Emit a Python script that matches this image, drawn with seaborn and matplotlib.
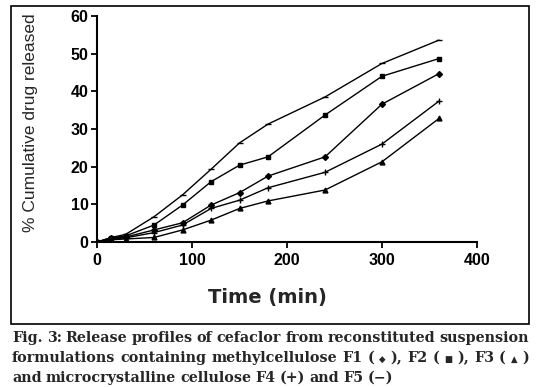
import numpy as np
import pandas as pd
import matplotlib
matplotlib.use("Agg")
import matplotlib.pyplot as plt
import seaborn as sns
from matplotlib.patches import Rectangle

# data
time_min = [0, 15, 30, 60, 90, 120, 150, 180, 240, 300, 360]
f5 = [0, 1.2, 2.0, 6.7, 12.5, 19.3, 26.3, 31.3, 38.5, 47.4, 53.6]
f2 = [0, 1.1, 1.6, 4.5, 9.8, 16.0, 20.4, 22.6, 33.7, 44.0, 48.7]
f1 = [0, 1.0, 1.3, 3.2, 5.1, 9.8, 13.1, 17.5, 22.6, 36.6, 44.7]
f4 = [0, 0.8, 1.1, 2.5, 4.5, 8.9, 11.1, 14.4, 18.5, 26.0, 37.4]
f3 = [0, 0.6, 0.8, 1.2, 3.2, 5.8, 8.9, 10.9, 13.8, 21.3, 32.8]

series = {"F5": f5, "F2": f2, "F1": f1, "F4": f4, "F3": f3}
markers = {"F1": "D", "F2": "s", "F3": "^", "F4": "+", "F5": "_"}
msizes = {"F1": 3, "F2": 3, "F3": 3.5, "F4": 4.5, "F5": 4.5}

x_ticks = [0, 100, 200, 300, 400]
y_ticks = [0, 10, 20, 30, 40, 50, 60]

caption = ["Fig. 3: Release profiles of cefaclor from reconstituted suspension",
           "formulations containing methylcellulose F1 ( \u25c6 ), F2 ( \u25a0 ), F3 ( \u25b2 )",
           "and microcrystalline cellulose F4 (+) and F5 (\u2212)"]

rows = []
for name, vals in series.items():
    for t, v in zip(time_min, vals):
        rows.append({"Time": t, "Released": v, "Formulation": name})
df = pd.DataFrame(rows)

sns.set_style("white")

W, H = 542, 387
fig = plt.figure(figsize=(W / 100, H / 100), dpi=100)

def fx(px):
    return px / W

def fy(py):
    return 1 - py / H

ax = fig.add_axes([fx(97), fy(242), fx(477) - fx(97), fy(16) - fy(242)])

for name in series:
    sub = df[df["Formulation"] == name]
    sns.lineplot(data=sub, x="Time", y="Released", ax=ax, color="black",
                 linewidth=1.0, marker=markers[name], markersize=msizes[name],
                 markeredgecolor="black", markerfacecolor="black", mew=1.0)

ax.set_xlim(0, 400)
ax.set_ylim(0, 60)
ax.set_xticks(x_ticks)
ax.set_yticks(y_ticks)
ax.set_xlabel("")
ax.set_ylabel("")
for s in ["top", "right"]:
    ax.spines[s].set_visible(False)
for s in ["left", "bottom"]:
    ax.spines[s].set_linewidth(1.5)
    ax.spines[s].set_color("black")
ax.tick_params(axis="both", direction="out", length=4, width=1.3, colors="black",
               bottom=True, left=True)
ax.tick_params(axis="x", pad=4)
ax.tick_params(axis="y", pad=2)
for lab in ax.get_xticklabels() + ax.get_yticklabels():
    lab.set_fontfamily("Liberation Sans")
    lab.set_fontweight("bold")
    lab.set_fontsize(11.5)

fig.text(fx(31), fy(123), "% Cumulative drug released", rotation=90,
         ha="center", va="center", fontsize=12.5, family="Liberation Sans")
fig.text(fx(267), fy(297), "Time (min)", ha="center", va="center",
         fontsize=14, fontweight="bold", family="DejaVu Sans")

# frame around the chart
fig.patches.append(Rectangle((fx(11), fy(324)), fx(529) - fx(11), fy(6) - fy(324),
                             transform=fig.transFigure, fill=False,
                             edgecolor="black", linewidth=1.2))

# justified caption, word by word
cap_fam = ["DejaVu Serif", "DejaVu Sans"]
left, right = 12, 529
baselines = [342, 362, 382]
min_gap = 4.5
symbols = ("\u25c6", "\u25a0", "\u25b2")
renderer = fig.canvas.get_renderer()

def word_widths(words, size):
    out = []
    for w in words:
        t = fig.text(0, 0, w, fontsize=size * (0.6 if w in symbols else 1),
                     fontweight="bold", family=cap_fam)
        out.append(t.get_window_extent(renderer).width)
        t.remove()
    return out

# pick a font size so the two justified lines fit
ref = 12
cap_size = ref
for line in caption[:2]:
    words = line.split(" ")
    tot = sum(word_widths(words, ref))
    s = ref * (right - left - (len(words) - 1) * min_gap) / tot
    cap_size = min(cap_size, s)

for i, line in enumerate(caption):
    words = line.split(" ")
    widths = word_widths(words, cap_size)
    if i < len(caption) - 1:
        gap = (right - left - sum(widths)) / (len(words) - 1)
    else:
        gap = 0.3 * cap_size * 100 / 72
    x = left
    for w, wd in zip(words, widths):
        fig.text(fx(x), fy(baselines[i]), w, ha="left", va="baseline",
                 fontsize=cap_size * (0.6 if w in symbols else 1),
                 fontweight="bold", family=cap_fam)
        x += wd + gap

fig.savefig("out.png", dpi=100)
